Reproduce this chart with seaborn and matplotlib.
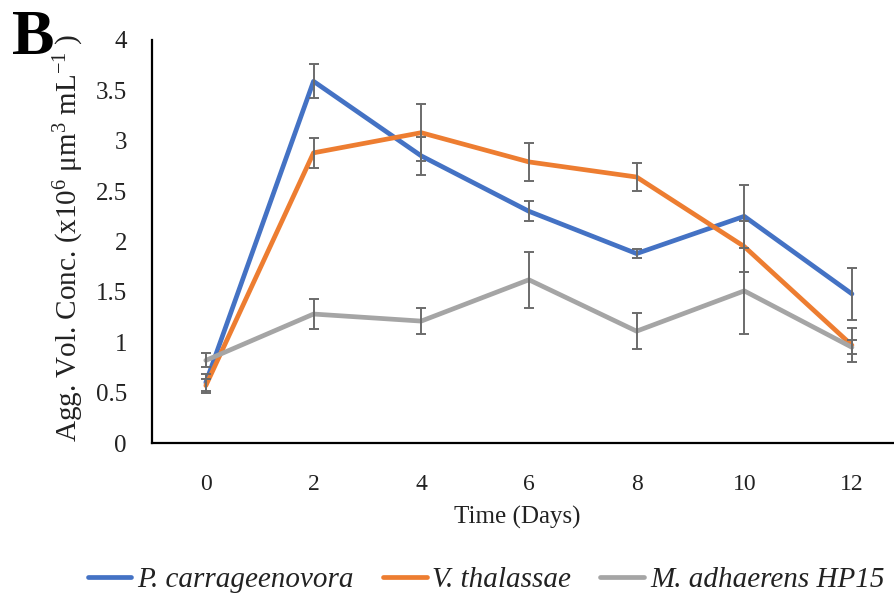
import matplotlib
matplotlib.use("Agg")
import matplotlib.pyplot as plt
import seaborn as sns
import pandas as pd
import numpy as np

days = [0, 2, 4, 6, 8, 10, 12]
series_names = ["P. carrageenovora", "V. thalassae", "M. adhaerens HP15"]
p_carr = [0.60, 3.59, 2.85, 2.30, 1.88, 2.25, 1.48]
p_carr_err = [0.08, 0.17, 0.19, 0.10, 0.045, 0.31, 0.26]
v_thal = [0.57, 2.88, 3.08, 2.79, 2.64, 1.95, 0.97]
v_thal_err = [0.07, 0.15, 0.28, 0.19, 0.135, 0.25, 0.17]
m_adh = [0.82, 1.28, 1.21, 1.62, 1.11, 1.51, 0.95]
m_adh_err = [0.07, 0.15, 0.13, 0.28, 0.18, 0.43, 0.07]
colors = ["#4472C4", "#ED7D31", "#A5A5A5"]
ytick_vals = [0, 0.5, 1, 1.5, 2, 2.5, 3, 3.5, 4]
ytick_labels = ["0", "0.5", "1", "1.5", "2", "2.5", "3", "3.5", "4"]

sns.set_theme(style="white")
plt.rcParams["font.family"] = ["Liberation Serif", "DejaVu Serif"]
plt.rcParams["mathtext.fontset"] = "custom"
plt.rcParams["mathtext.rm"] = "Liberation Serif"
plt.rcParams["mathtext.it"] = "Liberation Serif:italic"

values = [p_carr, v_thal, m_adh]
errors = [p_carr_err, v_thal_err, m_adh_err]
df = pd.DataFrame({
    "Day": days * 3,
    "Value": p_carr + v_thal + m_adh,
    "Series": sum([[n] * len(days) for n in series_names], []),
})

fig = plt.figure(figsize=(8.95, 6.0), dpi=100)
ax = fig.add_axes([152 / 895, (600 - 443) / 600, (895 - 152) / 895, (443 - 40) / 600])

sns.lineplot(data=df, x="Day", y="Value", hue="Series", hue_order=series_names,
             palette=colors, linewidth=3.4, ax=ax, legend=True, errorbar=None)

for v, e in zip(values, errors):
    ax.errorbar(days, v, yerr=e, fmt="none", ecolor="#6b6b6b", elinewidth=1.4,
                capsize=3.8, capthick=1.4, zorder=5)

ax.set_xlim(-1, 12.8)
ax.set_ylim(0, 4)
ax.set_xticks(days)
ax.set_xticklabels([str(d) for d in days], fontsize=17)
ax.set_yticks(ytick_vals)
ax.set_yticklabels(ytick_labels, fontsize=18)
ax.tick_params(axis="both", length=0, colors="#222222")
ax.tick_params(axis="x", pad=22)
ax.tick_params(axis="y", pad=18)
for s in ["top", "right"]:
    ax.spines[s].set_visible(False)
for s in ["left", "bottom"]:
    ax.spines[s].set_color("black")
    ax.spines[s].set_linewidth(1.6)

ax.set_xlabel("Time (Days)", fontsize=18, color="#222222")
ax.set_ylabel("Agg. Vol. Conc. (x10$^{6}$ μm$^{3}$ mL$^{-1}$ )", fontsize=21, color="#222222")
ax.xaxis.set_label_coords((517 - 152) / 743, -(506 - 443) / 403)
ax.yaxis.set_label_coords(-(152 - 86) / 743, 0.51)

handles, labels = ax.get_legend_handles_labels()
ax.legend_.remove()
leg = fig.legend(handles, labels, loc="center", bbox_to_anchor=(486 / 895, 1 - 580 / 600),
                 ncol=3, frameon=False, handlelength=1.5, handletextpad=0.2,
                 columnspacing=1.0, prop={"family": "Liberation Serif", "style": "italic", "size": 21})
for t in leg.get_texts():
    t.set_color("#222222")

fig.text(12 / 895, 1 - 10 / 600, "B", fontsize=46, fontweight="bold", va="top", ha="left",
         color="black")

fig.savefig("out.png", dpi=100)
